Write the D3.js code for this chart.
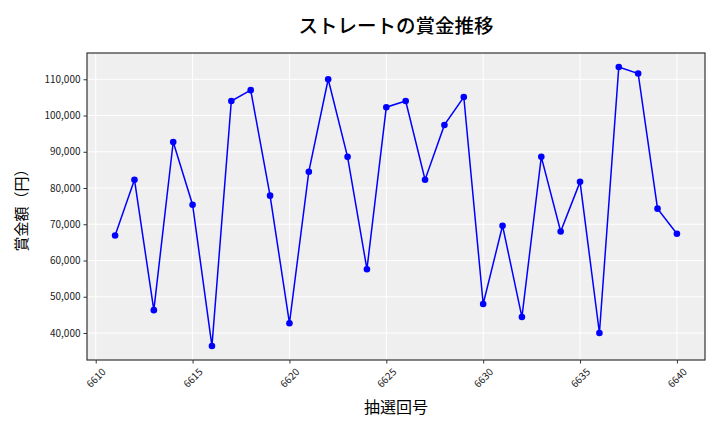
<!DOCTYPE html>
<html>
<head>
<meta charset="utf-8">
<script src="https://cdn.jsdelivr.net/npm/d3@7"></script>
<style>
  body { margin: 0; background: #fff; }
  text { font-family: "Noto Sans CJK JP", "DejaVu Sans", sans-serif; }
</style>
</head>
<body>
<div id="chart"></div>
<script>
const rounds = d3.range(6611, 6641);
const prizes = [
  66900, 82300, 46300, 92700, 75400, 36400, 104000, 107000, 77900, 42700,
  84500, 110000, 88600, 57600, 102300, 104000, 82300, 97400, 105100, 48000,
  69600, 44400, 88600, 68000, 81700, 40000, 113400, 111600, 74300, 67400
];
const xTicks = [6610, 6615, 6620, 6625, 6630, 6635, 6640];
const yTicks = [40000, 50000, 60000, 70000, 80000, 90000, 100000, 110000];

const data = rounds.map((r, i) => ({ round: r, prize: prizes[i] }));

const W = 720, H = 432;
const margin = { top: 53, right: 15, bottom: 72, left: 87 };
const width = W - margin.left - margin.right;
const height = H - margin.top - margin.bottom;

const svg = d3.select("#chart").append("svg")
  .attr("width", W).attr("height", H);

// matplotlib-style 5% padding
const xExt = d3.extent(rounds), yExt = d3.extent(prizes);
const xPad = (xExt[1] - xExt[0]) * 0.05, yPad = (yExt[1] - yExt[0]) * 0.05;

const x = d3.scaleLinear().domain([xExt[0] - xPad, xExt[1] + xPad]).range([0, width]);
const y = d3.scaleLinear().domain([yExt[0] - yPad, yExt[1] + yPad]).range([height, 0]);

const g = svg.append("g").attr("transform", `translate(${margin.left},${margin.top})`);

g.append("rect").attr("width", width).attr("height", height).attr("fill", "#efefef");

// grid
g.selectAll("line.gx").data(xTicks).enter().append("line")
  .attr("x1", d => x(d)).attr("x2", d => x(d))
  .attr("y1", 0).attr("y2", height)
  .attr("stroke", "#fff").attr("stroke-width", 1);
g.selectAll("line.gy").data(yTicks).enter().append("line")
  .attr("y1", d => y(d)).attr("y2", d => y(d))
  .attr("x1", 0).attr("x2", width)
  .attr("stroke", "#fff").attr("stroke-width", 1);

// axes
const xAxis = g.append("g").attr("transform", `translate(0,${height})`)
  .call(d3.axisBottom(x).tickValues(xTicks).tickFormat(d3.format("d")).tickSize(3.5).tickSizeOuter(0));
xAxis.select(".domain").remove();
xAxis.selectAll("line").attr("stroke", "#333");
xAxis.selectAll("text")
  .attr("font-size", 10).attr("fill", "#222")
  .attr("text-anchor", "middle")
  .attr("x", 0).attr("y", 0).attr("dy", "0.35em")
  .attr("transform", "translate(0,18) rotate(-45)");

const yAxis = g.append("g")
  .call(d3.axisLeft(y).tickValues(yTicks).tickFormat(d3.format(",")).tickSize(3.5).tickSizeOuter(0));
yAxis.select(".domain").remove();
yAxis.selectAll("line").attr("stroke", "#333");
yAxis.selectAll("text").attr("font-size", 10).attr("fill", "#222");

g.append("rect").attr("width", width).attr("height", height)
  .attr("fill", "none").attr("stroke", "#333").attr("stroke-width", 1.2);

// line + markers
g.append("path").datum(data)
  .attr("fill", "none").attr("stroke", "#0000ff").attr("stroke-width", 1.5)
  .attr("d", d3.line().x(d => x(d.round)).y(d => y(d.prize)));

g.selectAll("circle").data(data).enter().append("circle")
  .attr("cx", d => x(d.round)).attr("cy", d => y(d.prize))
  .attr("r", 3.3).attr("fill", "#0000ff");

// labels
svg.append("text")
  .attr("x", margin.left + width / 2).attr("y", 33)
  .attr("text-anchor", "middle").attr("font-size", 19.5).attr("font-weight", 500)
  .text("ストレートの賞金推移");

svg.append("text")
  .attr("x", margin.left + width / 2).attr("y", 413)
  .attr("text-anchor", "middle").attr("font-size", 16)
  .text("抽選回号");

svg.append("text")
  .attr("transform", `translate(27,${margin.top + height / 2}) rotate(-90)`)
  .attr("text-anchor", "middle").attr("font-size", 15)
  .text("賞金額（円）");
</script>
</body>
</html>
